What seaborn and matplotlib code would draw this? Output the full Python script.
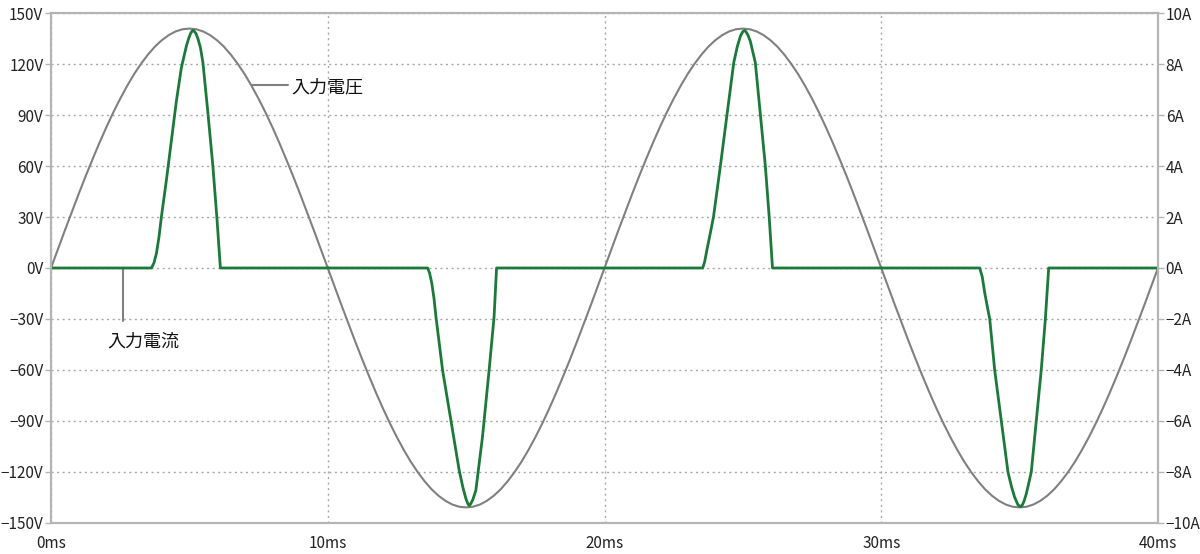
import numpy as np
import pandas as pd
import seaborn as sns
import matplotlib
matplotlib.use("Agg")
import matplotlib.pyplot as plt

# input voltage, sampled every 0.25 ms (V)
volt_ms = np.arange(0, 40.25, 0.25)
volt_v = [0, 11.1, 22.1, 32.9, 43.6, 54.0, 64.0, 73.7, 82.9, 91.6, 99.7, 107.2, 114.1, 120.2, 125.6, 130.3, 134.1, 137.1, 139.3, 140.6, 141.0,
          140.6, 139.3, 137.1, 134.1, 130.3, 125.6, 120.2, 114.1, 107.2, 99.7, 91.6, 82.9, 73.7, 64.0, 54.0, 43.6, 32.9, 22.1, 11.1,
          0, -11.1, -22.1, -32.9, -43.6, -54.0, -64.0, -73.7, -82.9, -91.6, -99.7, -107.2, -114.1, -120.2, -125.6, -130.3, -134.1, -137.1, -139.3, -140.6, -141.0,
          -140.6, -139.3, -137.1, -134.1, -130.3, -125.6, -120.2, -114.1, -107.2, -99.7, -91.6, -82.9, -73.7, -64.0, -54.0, -43.6, -32.9, -22.1, -11.1,
          0, 11.1, 22.1, 32.9, 43.6, 54.0, 64.0, 73.7, 82.9, 91.6, 99.7, 107.2, 114.1, 120.2, 125.6, 130.3, 134.1, 137.1, 139.3, 140.6, 141.0,
          140.6, 139.3, 137.1, 134.1, 130.3, 125.6, 120.2, 114.1, 107.2, 99.7, 91.6, 82.9, 73.7, 64.0, 54.0, 43.6, 32.9, 22.1, 11.1,
          0, -11.1, -22.1, -32.9, -43.6, -54.0, -64.0, -73.7, -82.9, -91.6, -99.7, -107.2, -114.1, -120.2, -125.6, -130.3, -134.1, -137.1, -139.3, -140.6, -141.0,
          -140.6, -139.3, -137.1, -134.1, -130.3, -125.6, -120.2, -114.1, -107.2, -99.7, -91.6, -82.9, -73.7, -64.0, -54.0, -43.6, -32.9, -22.1, -11.1,
          0]

# input current (A), read point by point from the pulses
cur_ms = [0, 3.63, 3.72, 3.81, 3.90, 3.99, 4.17, 4.35, 4.53, 4.71, 4.89, 4.97, 5.04, 5.09, 5.13, 5.18, 5.24, 5.31, 5.40, 5.49, 5.67, 5.85, 6.00, 6.12,
          13.61, 13.68, 13.76, 13.84, 13.91, 14.15, 14.45, 14.75, 14.88, 14.99, 15.06, 15.11, 15.16, 15.24, 15.35, 15.59, 15.83, 16.01, 16.10,
          23.55, 23.62, 23.70, 23.82, 23.94, 24.19, 24.43, 24.67, 24.80, 24.91, 24.99, 25.06, 25.11, 25.18, 25.27, 25.45, 25.63, 25.81, 25.95, 26.07,
          33.56, 33.65, 33.74, 33.83, 33.92, 34.10, 34.34, 34.58, 34.71, 34.82, 34.94, 35.04, 35.10, 35.16, 35.24, 35.42, 35.60, 35.78, 35.93, 36.05, 40]
cur_a = [0, 0, 0.2, 0.58, 1.2, 2.02, 3.45, 5.0, 6.55, 7.86, 8.71, 9.0, 9.2, 9.29, 9.33, 9.29, 9.2, 9.0, 8.65, 8.06, 6.09, 3.99, 1.89, 0,
         0, -0.2, -0.6, -1.2, -1.92, -4.02, -5.98, -7.95, -8.6, -9.05, -9.25, -9.33, -9.27, -9.1, -8.74, -6.64, -4.02, -1.92, 0,
         0, 0.25, 0.71, 1.35, 2.02, 4.03, 6.05, 8.06, 8.7, 9.10, 9.27, 9.33, 9.28, 9.15, 8.9, 8.06, 6.05, 4.03, 2.02, 0,
         0, -0.35, -0.98, -1.5, -2.0, -4.02, -6.02, -8.02, -8.6, -9.0, -9.3, -9.37, -9.3, -9.15, -8.87, -8.02, -6.02, -4.02, -2.0, 0, 0]

x_ticks = [0, 10, 20, 30, 40]
v_ticks = [150, 120, 90, 60, 30, 0, -30, -60, -90, -120, -150]
a_ticks = [10, 8, 6, 4, 2, 0, -2, -4, -6, -8, -10]

sns.set_style("white")
plt.rcParams["font.family"] = ["Noto Sans CJK JP", "DejaVu Sans"]

GRAY = "#808080"
GREEN = "#1b7a3a"
FRAME = "#b4b4b4"

volt_df = pd.DataFrame({"t": volt_ms, "v": volt_v})
cur_df = pd.DataFrame({"t": cur_ms, "a": cur_a})

fig = plt.figure(figsize=(12, 5.54), dpi=100)
ax = fig.add_axes([0.0425, 0.0565, 0.9225, 0.9195])

sns.lineplot(data=volt_df, x="t", y="v", ax=ax, color=GRAY, linewidth=1.5,
             estimator=None, sort=False, zorder=3)

ax.set_xlim(0, 40)
ax.set_ylim(-150, 150)
ax.set_xticks(x_ticks)
ax.set_xticklabels([f"{t}ms" for t in x_ticks])
ax.set_yticks(v_ticks)
ax.set_yticklabels([f"{v}V".replace("-", "\u2212") for v in v_ticks])
ax.set_xlabel("")
ax.set_ylabel("")
ax.grid(True, linestyle=(0, (1.5, 2.5)), color="#a8a8a8", linewidth=1.0)
ax.set_axisbelow(True)

ax2 = ax.twinx()
sns.lineplot(data=cur_df, x="t", y="a", ax=ax2, color=GREEN, linewidth=2.0,
             estimator=None, sort=False)
ax2.set_ylim(-10, 10)
ax2.set_yticks(a_ticks)
ax2.set_yticklabels([f"{a}A".replace("-", "\u2212") for a in a_ticks])
ax2.set_ylabel("")

for a in (ax, ax2):
    for sp in a.spines.values():
        sp.set_color(FRAME)
        sp.set_linewidth(1.5)
    a.tick_params(axis="both", which="major", direction="out", length=4, width=1,
                  color=FRAME, labelsize=11, labelcolor="#222222", pad=1.5)
ax.tick_params(axis="x", pad=5)

# annotations with leader lines
ax.plot([7.28, 8.55], [107.5, 107.5], color=GRAY, linewidth=1.5, zorder=4)
ax.text(8.69, 106.5, "入力電圧", fontsize=13, va="center", ha="left", color="#111111")

ax.plot([2.61, 2.61], [0, -31], color=GRAY, linewidth=1.5, zorder=4)
ax.text(3.32, -43.5, "入力電流", fontsize=13, va="center", ha="center", color="#111111")

fig.savefig("out.png", dpi=100)
